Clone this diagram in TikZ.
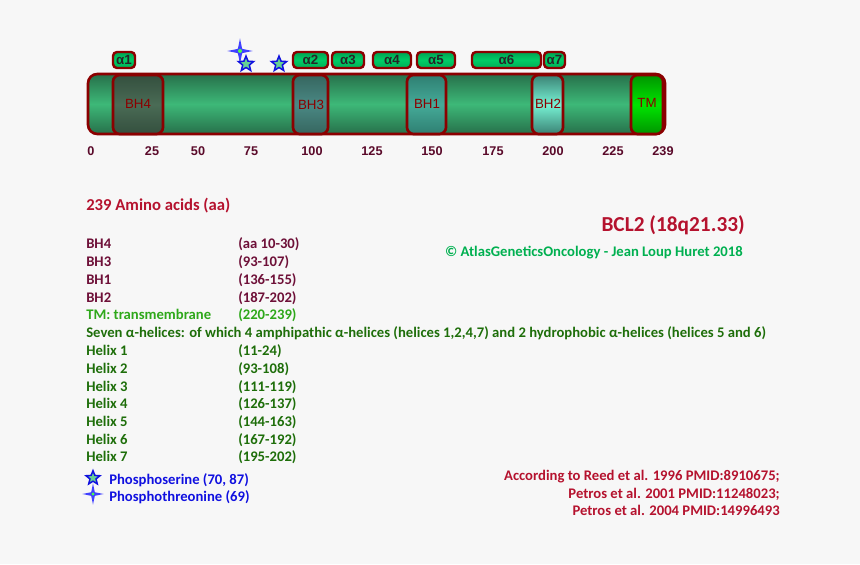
\documentclass[tikz,border=0pt]{standalone}
\usepackage{fontspec}
\setmainfont{Carlito}
\setsansfont{Liberation Sans}
\usetikzlibrary{shapes.geometric}
\definecolor{bclBack}{HTML}{F7F7F7}
\definecolor{bclRim}{HTML}{8B0000}
\definecolor{bclRed}{HTML}{B5122E}
\definecolor{bclWine}{HTML}{6E1038}
\definecolor{bclGreen}{HTML}{1E6E0A}
\definecolor{bclLime}{HTML}{2EA81A}
\definecolor{bclCopy}{HTML}{00B050}
\definecolor{bclBlue}{HTML}{1010E0}
\definecolor{bclTick}{HTML}{5A0A2A}
\definecolor{bclChainDark}{HTML}{27704A}
\definecolor{bclChainLight}{HTML}{3DB878}
\definecolor{bclHelix}{HTML}{00CC66}
\definecolor{bclBhFourDark}{HTML}{344F3E}
\definecolor{bclBhFourMid}{HTML}{4A6B55}
\definecolor{bclBhThreeDark}{HTML}{36665F}
\definecolor{bclBhThreeMid}{HTML}{4A8884}
\definecolor{bclBhOneDark}{HTML}{2F7F72}
\definecolor{bclBhOneMid}{HTML}{45AA98}
\definecolor{bclBhTwoDark}{HTML}{3A8274}
\definecolor{bclBhTwoMid}{HTML}{78F2D4}
\tikzset{
  every picture/.style={font=\bfseries\fontsize{11}{13}\selectfont},
  bcl chain/.style={draw=bclRim, line width=2pt, rounded corners=7pt,
    top color=bclChainDark, bottom color=bclChainDark, middle color=bclChainLight},
  bcl domain/.style={draw=bclRim, line width=2pt, rounded corners=5pt},
  bcl helix/.style={draw=bclRim, line width=1.8pt, rounded corners=3pt,
    top color=bclHelix!80!black, bottom color=bclHelix!85!black, middle color=bclHelix},
  bcl name/.style={font=\sffamily\fontsize{10}{12}\selectfont, text=bclRim},
  bcl alpha/.style={font=\sffamily\bfseries\fontsize{10}{12}\selectfont, text=black!85},
  bcl tick/.style={font=\sffamily\bfseries\fontsize{9.5}{11}\selectfont, text=bclTick},
  bcl line/.style={anchor=base west, inner sep=0pt},
  bcl right/.style={anchor=base east, inner sep=0pt},
  bcl serine/.style={star, star points=5, star point ratio=2.3, draw=bclBlue,
    fill=green!70!blue!60!white, line width=1.1pt, inner sep=0pt},
  bcl threonine/.style={star, star points=4, star point ratio=4.2, draw=none,
    fill=blue!75!white, inner sep=0pt}
}

\begin{document}
\begin{tikzpicture}[x=0.75pt,y=-0.75pt]
  \fill[bclBack] (0,0) rectangle (860,564);

  % protein chain
  \draw[bcl chain] (88,74) rectangle (665,134);
  \draw[bcl domain, top color=bclBhFourDark, bottom color=bclBhFourDark,
    middle color=bclBhFourMid] (113,75) rectangle (163,134);
  \node[bcl name] (bh4) at (138,104) {BH4};
  \draw[bcl domain, top color=bclBhThreeDark, bottom color=bclBhThreeDark,
    middle color=bclBhThreeMid] (293,75) rectangle (328,134);
  \node[bcl name] (bh3) at (311,105) {BH3};
  \draw[bcl domain, top color=bclBhOneDark, bottom color=bclBhOneDark,
    middle color=bclBhOneMid] (407,75) rectangle (446,134);
  \node[bcl name] (bh1) at (427,104) {BH1};
  \draw[bcl domain, top color=bclBhTwoDark, bottom color=bclBhTwoDark,
    middle color=bclBhTwoMid] (532,75) rectangle (563,134);
  \node[bcl name] (bh2) at (548,104) {BH2};
  \draw[bcl domain, top color=green!58!black, bottom color=green!58!black,
    middle color=green!90!black] (631,75) rectangle (663,134);
  \node[bcl name] (tm) at (647,103) {TM};

  % helices
  \foreach \n/\a/\b in {1/113/135,2/293/328,3/332/364,4/373/411,5/417/455,6/472/541,7/544/565}{
    \draw[bcl helix] (\a,52) rectangle (\b,68);
    \node[bcl alpha] (helix\n) at ({(\a+\b)/2},60) {α\n};
  }

  % phosphorylation sites
  \node[bcl threonine, minimum size=19pt] (thr69) at (240,51) {};
  \fill[green!70!white] (thr69.center) circle (1.5pt);
  \node[bcl serine, minimum size=12pt] (ser70) at (246,64) {};
  \node[bcl serine, minimum size=12pt] (ser87) at (279,64) {};

  % scale
  \foreach \lab/\x in {0/91,25/152,50/198,75/251,100/312,125/372,150/432,175/493,200/553,225/613,239/663}
    \node[bcl tick] (tick\lab) at (\x,151) {\lab};

  % legend
  \node[bcl line, text=bclRed, font=\bfseries\fontsize{12.5}{15}\selectfont] (length) at (86,210) {239 Amino acids (aa)};
  \node[bcl right, text=bclRed, font=\bfseries\fontsize{16}{19}\selectfont] (gene) at (745,231) {BCL2 (18q21.33)};
  \node[bcl right, text=bclCopy] (copy) at (743,256) {© AtlasGeneticsOncology - Jean Loup Huret 2018};

  \node[bcl line, text=bclWine] (bh4txt) at (86,248) {BH4};
  \node[bcl line, text=bclWine] (bh4pos) at (238,248) {(aa 10-30)};
  \node[bcl line, text=bclWine] (bh3txt) at (86,266) {BH3};
  \node[bcl line, text=bclWine] (bh3pos) at (238,266) {(93-107)};
  \node[bcl line, text=bclWine] (bh1txt) at (86,284) {BH1};
  \node[bcl line, text=bclWine] (bh1pos) at (238,284) {(136-155)};
  \node[bcl line, text=bclWine] (bh2txt) at (86,302) {BH2};
  \node[bcl line, text=bclWine] (bh2pos) at (238,302) {(187-202)};
  \node[bcl line, text=bclLime] (tmtxt) at (86,319) {TM: transmembrane};
  \node[bcl line, text=bclLime] (tmpos) at (238,319) {(220-239)};
  \node[bcl line, text=bclGreen] (seven) at (86,337)
    {Seven α-helices: of which 4 amphipathic α-helices (helices 1,2,4,7) and 2 hydrophobic α-helices (helices 5 and 6)};
  \foreach \n/\y/\r in {1/355/11-24,2/373/93-108,3/391/111-119,4/408/126-137,5/426/144-163,6/444/167-192,7/461/195-202}{
    \node[bcl line, text=bclGreen] (helixtxt\n) at (86,\y) {Helix \n};
    \node[bcl line, text=bclGreen] (helixpos\n) at (238,\y) {(\r)};
  }

  \node[bcl serine, minimum size=11pt] (serkey) at (93,478) {};
  \node[bcl line, text=bclBlue] (sertxt) at (109,484) {Phosphoserine (70, 87)};
  \node[bcl threonine, minimum size=16pt] (thrkey) at (93,494) {};
  \fill[green!70!white] (thrkey.center) circle (1.2pt);
  \node[bcl line, text=bclBlue] (thrtxt) at (109,501) {Phosphothreonine (69)};

  \node[bcl right, text=bclRed] (ref1) at (780,480) {According to Reed et al. 1996 PMID:8910675;};
  \node[bcl right, text=bclRed] (ref2) at (780,498) {Petros et al. 2001 PMID:11248023;};
  \node[bcl right, text=bclRed] (ref3) at (780,515) {Petros et al. 2004 PMID:14996493};
\end{tikzpicture}
\end{document}
